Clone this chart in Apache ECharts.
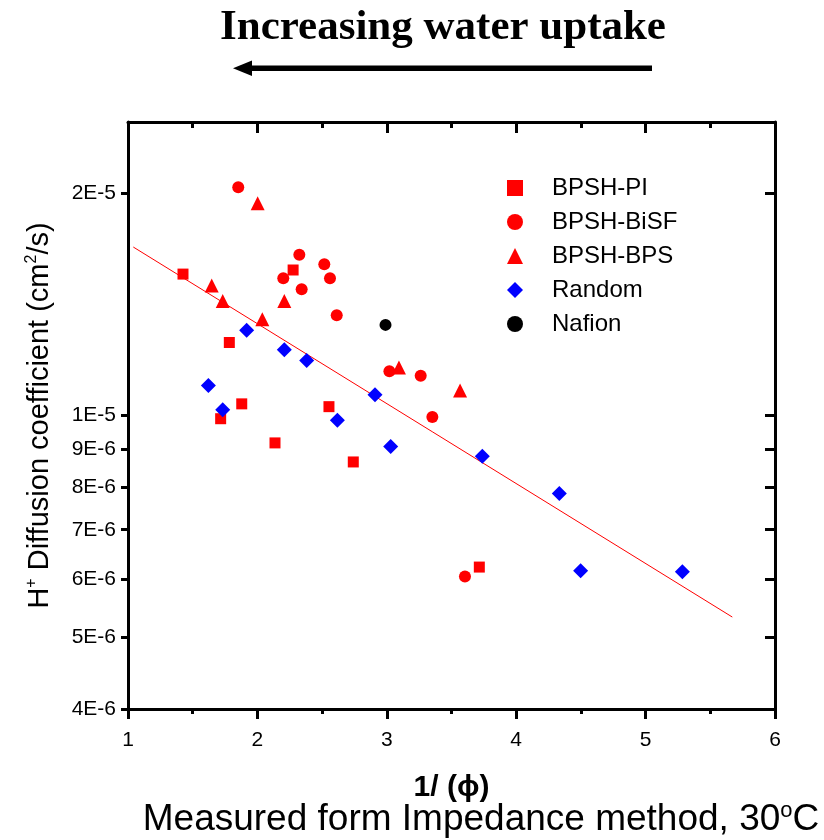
<!DOCTYPE html>
<html>
<head>
<meta charset="utf-8">
<script src="https://cdn.jsdelivr.net/npm/echarts@6/dist/echarts.min.js"></script>
<style>
html,body{margin:0;padding:0;background:#fff;}
#c{width:824px;height:840px;}
</style>
</head>
<body>
<div id="c"></div>
<script>
// ---- data ----
const piX = [1.425, 2.276, 1.783, 1.879, 1.716, 2.136, 2.553, 2.741, 3.715];
const piY = [1.555e-5, 1.575e-5, 1.256e-5, 1.037e-5, 0.99e-5, 9.18e-6, 1.028e-5, 8.65e-6, 6.23e-6];

const bisfX = [1.852, 2.324, 2.2, 2.342, 2.517, 2.561, 2.613, 3.02, 3.262, 3.352, 3.604];
const bisfY = [2.04e-5, 1.652e-5, 1.535e-5, 1.483e-5, 1.603e-5, 1.535e-5, 1.367e-5, 1.148e-5, 1.132e-5, 0.995e-5, 6.05e-6];

const bpsX = [2.002, 1.647, 1.732, 2.038, 2.208, 3.094, 3.566];
const bpsY = [1.94e-5, 1.5e-5, 1.43e-5, 1.35e-5, 1.43e-5, 1.162e-5, 1.081e-5];

const randX = [1.917, 2.208, 2.381, 1.621, 1.732, 2.618, 2.909, 3.03, 3.738, 4.333, 4.498, 5.284];
const randY = [1.305e-5, 1.228e-5, 1.187e-5, 1.098e-5, 1.018e-5, 0.985e-5, 1.067e-5, 9.08e-6, 8.805e-6, 7.84e-6, 6.16e-6, 6.14e-6];

const nafX = [2.99];
const nafY = [1.327e-5];

const fitX = [1.041, 5.67];
const fitY = [1.692e-5, 5.33e-6];

const yTicks = [4e-6, 5e-6, 6e-6, 7e-6, 8e-6, 9e-6, 1e-5, 2e-5];
const seriesNames = ['BPSH-PI', 'BPSH-BiSF', 'BPSH-BPS', 'Random', 'Nafion'];

const zip = (xs, ys) => xs.map((x, i) => [x, ys[i]]);
const fmtE = v => {
  const e = Math.floor(Math.log10(v) + 1e-9);
  const m = Math.round(v / Math.pow(10, e));
  return m + 'E' + e;
};

const FONT = '"Liberation Sans", Arial, sans-serif';
const chart = echarts.init(document.getElementById('c'), null, {renderer: 'canvas'});

const xBase = {
  type: 'value', min: 1, max: 6, interval: 1,
  axisLine: {show: true, onZero: false, lineStyle: {color: '#000', width: 3}},
  splitLine: {show: false},
  minorTick: {show: true, splitNumber: 2, length: 5, lineStyle: {color: '#000', width: 3}},
  minorSplitLine: {show: false}
};
const yBase = {
  type: 'log', logBase: 10, min: 4e-6, max: 2.5e-5,
  axisLine: {show: true, lineStyle: {color: '#000', width: 3}},
  splitLine: {show: false},
  minorTick: {show: false}
};

chart.setOption({
  animation: false,
  backgroundColor: '#fff',
  grid: {left: 128, right: 49, top: 122, bottom: 131, containLabel: false},
  legend: {
    orient: 'vertical', left: 502, top: 171,
    itemWidth: 16, itemHeight: 16, itemGap: 10,
    data: seriesNames,
    textStyle: {fontFamily: FONT, fontSize: 24, color: '#000', lineHeight: 24, padding: [0, 0, 0, 24]}
  },
  xAxis: [
    Object.assign({}, xBase, {
      position: 'bottom',
      axisTick: {show: true, length: 10, inside: false, lineStyle: {color: '#000', width: 3}},
      axisLabel: {show: true, fontFamily: FONT, fontSize: 21, color: '#000', margin: 21},
      name: '1/ (\u03d5)', nameLocation: 'middle', nameGap: 64,
      nameTextStyle: {fontFamily: FONT, fontSize: 30, fontWeight: 'bold', color: '#000'}
    }),
    Object.assign({}, xBase, {
      position: 'top',
      axisTick: {show: true, length: 11, inside: true, lineStyle: {color: '#000', width: 3}},
      minorTick: {show: true, splitNumber: 2, length: 6, lineStyle: {color: '#000', width: 3}},
      axisLabel: {show: false}
    })
  ],
  yAxis: [
    Object.assign({}, yBase, {
      position: 'left',
      axisTick: {show: true, length: 7, inside: false, customValues: yTicks, lineStyle: {color: '#000', width: 3}},
      axisLabel: {show: true, customValues: yTicks, formatter: fmtE, fontFamily: FONT, fontSize: 21, color: '#000', margin: 12},
      name: '{a|H}{s|+}{a| Diffusion coefficient (cm}{s|2}{a|/s)}',
      nameLocation: 'middle', nameGap: 72, nameRotate: 90,
      nameTextStyle: {
        color: '#000',
        rich: {
          a: {fontFamily: FONT, fontSize: 29, color: '#000', lineHeight: 32},
          s: {fontFamily: FONT, fontSize: 16, color: '#000', verticalAlign: 'top', lineHeight: 16}
        }
      }
    }),
    Object.assign({}, yBase, {
      position: 'right',
      axisTick: {show: true, length: 10, inside: true, customValues: yTicks, lineStyle: {color: '#000', width: 3}},
      axisLabel: {show: false, customValues: yTicks}
    })
  ],
  series: [
    {name: 'Fit', type: 'line', data: zip(fitX, fitY), showSymbol: false, symbol: 'none',
     lineStyle: {color: '#ff0000', width: 1}, z: 1, silent: true},
    {name: 'BPSH-PI', type: 'scatter', symbol: 'rect', symbolSize: 11, data: zip(piX, piY), itemStyle: {color: '#ff0000', opacity: 1}, z: 3},
    {name: 'BPSH-BiSF', type: 'scatter', symbol: 'circle', symbolSize: 12, data: zip(bisfX, bisfY), itemStyle: {color: '#ff0000', opacity: 1}, z: 3},
    {name: 'BPSH-BPS', type: 'scatter', symbol: 'triangle', symbolSize: 14, data: zip(bpsX, bpsY), itemStyle: {color: '#ff0000', opacity: 1}, z: 3},
    {name: 'Random', type: 'scatter', symbol: 'diamond', symbolSize: 15, data: zip(randX, randY), itemStyle: {color: '#0000ff', opacity: 1}, z: 3},
    {name: 'Nafion', type: 'scatter', symbol: 'circle', symbolSize: 12, data: zip(nafX, nafY), itemStyle: {color: '#000000', opacity: 1}, z: 3}
  ],
  graphic: [
    {type: 'text', x: 443, y: 28, style: {
      text: 'Increasing water uptake', x: 0, y: 0, align: 'center', verticalAlign: 'middle',
      font: 'bold 43px "Liberation Serif", "Times New Roman", serif', fill: '#000'}},
    {type: 'rect', shape: {x: 249, y: 65.5, width: 403, height: 5.5}, style: {fill: '#000'}},
    {type: 'polygon', shape: {points: [[233, 68.2], [252, 60.5], [252, 76]]}, style: {fill: '#000'}},
    {type: 'text', x: 481, y: 820, style: {
      text: '{a|Measured form Impedance method, 30}{s|o}{a|C}',
      align: 'center', verticalAlign: 'middle',
      rich: {
        a: {fontFamily: FONT, fontSize: 37, fill: '#000', lineHeight: 40},
        s: {fontFamily: FONT, fontSize: 22, fill: '#000', verticalAlign: 'top', lineHeight: 22}
      }
    }}
  ]
});
</script>
</body>
</html>
